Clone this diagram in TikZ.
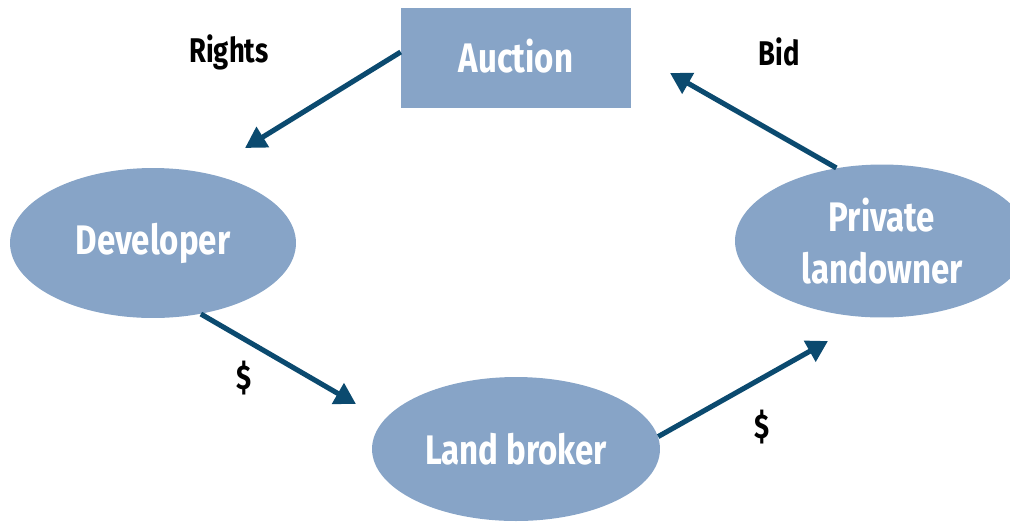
\documentclass[tikz,border=0pt]{standalone}
\usepackage{fontspec}
\usepackage{xcolor}
\usepackage{tikz}
\usetikzlibrary{shapes,arrows.meta,positioning,calc}
\newfontfamily\condfont{Fira Sans}[FakeStretch=0.8]
\definecolor{boxblue}{RGB}{135,164,199}
\definecolor{arrowblue}{RGB}{11,74,111}

\begin{document}
\begin{tikzpicture}[x=0.02cm, y=-0.02cm,
    party/.style={ellipse, fill=boxblue, inner sep=0pt, text=white, align=center, font=\condfont\bfseries\fontsize{23.5}{29.5}\selectfont},
    house/.style={rectangle, fill=boxblue, inner sep=0pt, text=white, font=\condfont\bfseries\fontsize{23.5}{29.5}\selectfont},
    flow/.style={-{Triangle[length=0.42cm, width=0.46cm]}, draw=arrowblue, line width=2.9pt},
    tag/.style={font=\condfont\bfseries\fontsize{19.5}{23}\selectfont}]

    \clip (0,0) rectangle (1010,529);
    \useasboundingbox (0,0) rectangle (1010,529);

    % Partners
    \node[house, minimum width=4.6cm, minimum height=2cm] (auction) at (516,58) {\raisebox{0.1cm}{Auction}};
    \node[party, minimum width=5.72cm, minimum height=3cm] (dev) at (153,243) {\raisebox{-0.04cm}{Developer}};
    \node[party, minimum width=5.76cm, minimum height=2.88cm] (broker) at (516,449) {Land broker};
    \node[party, minimum width=5.88cm, minimum height=3.06cm] (owner) at (882,241) {Private\\landowner};

    % Arrow ends
    \coordinate (rightsEnd) at (245,148);
    \coordinate (bidEnd) at (670,73);
    \coordinate (payEnd) at (356,404);
    \coordinate (sellEnd) at (828,341);

    \draw[flow] ([yshift=0.12cm]auction.west) -- (rightsEnd);
    \draw[flow] (owner.122) -- (bidEnd);
    \draw[flow] (dev.-56) -- (payEnd);
    \draw[flow] (broker.5) -- (sellEnd);

    % Labels
    \node[tag] (rights) at (229,52) {Rights};
    \node[tag] (bid) at (779,52) {Bid};
    \node[tag] (pay) at (244,378) {\$};
    \node[tag] (sell) at (762,427) {\$};
\end{tikzpicture}
\end{document}
